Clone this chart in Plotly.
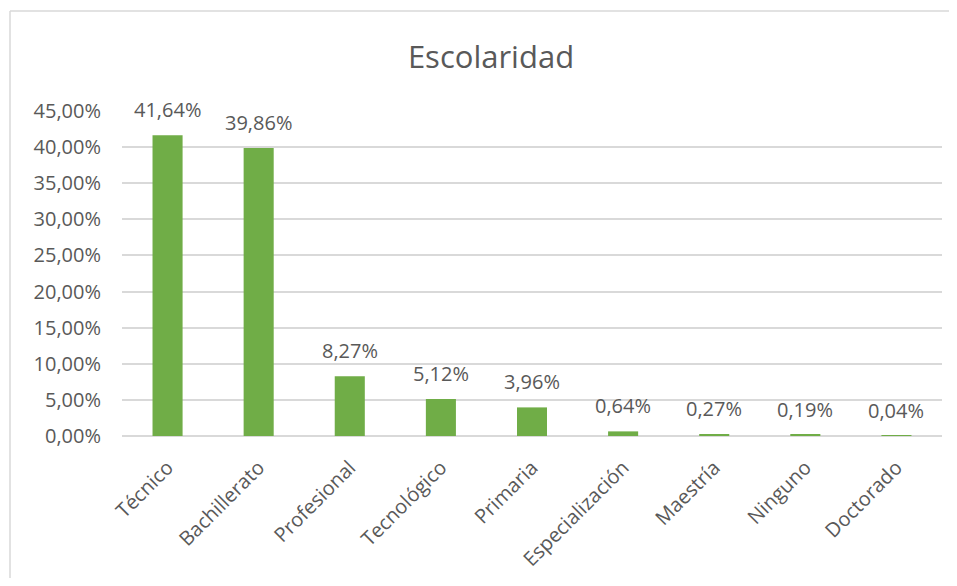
import plotly.graph_objects as go

categories = ["Técnico", "Bachillerato", "Profesional", "Tecnológico", "Primaria",
              "Especialización", "Maestría", "Ninguno", "Doctorado"]
values = [41.64, 39.86, 8.27, 5.12, 3.96, 0.64, 0.27, 0.19, 0.04]
labels = ["41,64%", "39,86%", "8,27%", "5,12%", "3,96%", "0,64%", "0,27%", "0,19%", "0,04%"]

FONT = "Open Sans"
GREY = "#595959"

W, H = 941, 570          # page has an 8px body margin on every side
L, R, T, B = 114, 7, 103, 142
PW, PH = W - L - R, H - T - B

fig = go.Figure()
fig.add_trace(go.Bar(
    x=categories, y=values,
    marker=dict(color="#70AD47", line=dict(width=0)),
    width=0.33,
    hoverinfo="skip",
))

for c, v, t in zip(categories, values, labels):
    fig.add_annotation(x=c, y=v, text=t, showarrow=False, yanchor="bottom",
                       yshift=10, font=dict(family=FONT, size=20, color=GREY))

fig.update_layout(
    width=W, height=H,
    paper_bgcolor="white", plot_bgcolor="white",
    margin=dict(l=L, r=R, t=T, b=B),
    separators=",.",
    showlegend=False,
    title=dict(text="Escolaridad", x=483 / W, xanchor="center", xref="container",
               y=1 - 49 / H, yref="container", yanchor="middle",
               font=dict(family=FONT, size=31, color=GREY)),
    xaxis=dict(tickangle=-45, tickfont=dict(family=FONT, size=20, color=GREY),
               showgrid=False, showline=False, ticks="", ticklabelstandoff=15),
    yaxis=dict(range=[0, 45], dtick=5, tickformat=".2f", ticksuffix="%",
               tickfont=dict(family=FONT, size=20, color=GREY),
               gridcolor="#d9d9d9", gridwidth=1.5, zeroline=True,
               zerolinecolor="#d9d9d9", zerolinewidth=1.5,
               showline=False, ticks="", ticklabelstandoff=20),
)

# chart border: only the left and top edges are inside the picture
bx0 = (2 - L) / PW
by1 = 1 + (T - 3) / PH
fig.add_shape(type="line", xref="paper", yref="paper",
              x0=bx0, x1=bx0, y0=-(H - T - PH + 20) / PH, y1=by1,
              line=dict(color="#d9d9d9", width=1.5), layer="below")
fig.add_shape(type="line", xref="paper", yref="paper",
              x0=bx0, x1=1 + (R + 20) / PW, y0=by1, y1=by1,
              line=dict(color="#d9d9d9", width=1.5), layer="below")

fig.write_html("out.html")
